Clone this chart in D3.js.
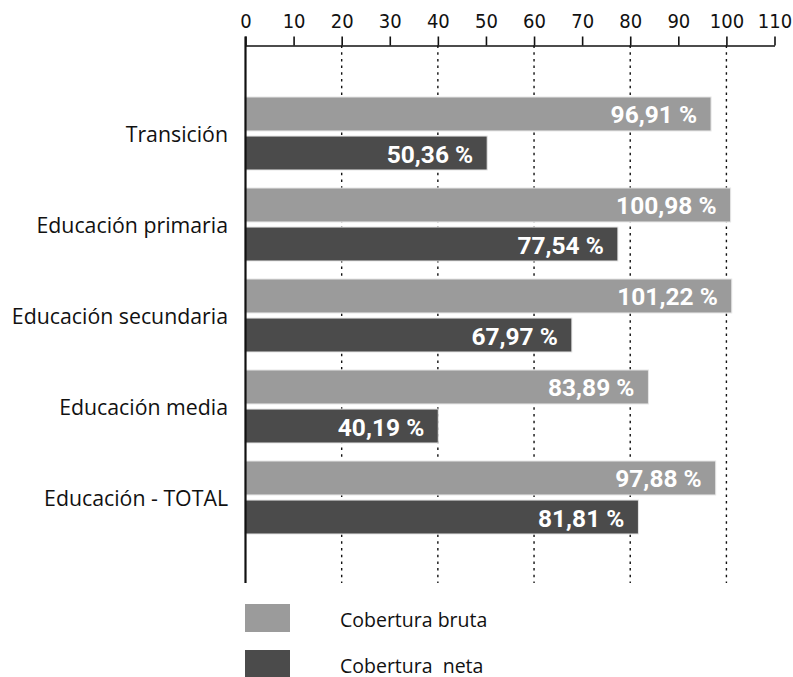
<!DOCTYPE html>
<html>
<head>
<meta charset="utf-8">
<script src="https://cdn.jsdelivr.net/npm/d3@7"></script>
<style>
  html, body { margin: 0; padding: 0; background: #fff; }
  svg { display: block; }
</style>
</head>
<body>
<svg id="chart" width="793" height="677"></svg>
<script>
const categories = ["Transición", "Educación primaria", "Educación secundaria", "Educación media", "Educación - TOTAL"];
const bruta = [96.91, 100.98, 101.22, 83.89, 97.88];
const neta = [50.36, 77.54, 67.97, 40.19, 81.81];
const seriesNames = ["Cobertura bruta", "Cobertura  neta"];
const tickValues = [0, 10, 20, 30, 40, 50, 60, 70, 80, 90, 100, 110];
const gridValues = [20, 40, 60, 80, 100];

const colors = ["#9b9b9b", "#4b4b4b"];
const svg = d3.select("#chart");

const x = d3.scaleLinear().domain([0, 110]).range([245, 774]);
const y = d3.scaleBand().domain(categories).range([88, 543]).paddingInner(0).paddingOuter(0);
const sub = d3.scaleBand().domain([0, 1]).range([-36.5, 36.5]).paddingInner(0.13);

const axisY = 45.5;
const bottomY = 583;

// grid lines
svg.append("g").selectAll("line").data(gridValues).join("line")
  .attr("x1", d => x(d) + 0.5).attr("x2", d => x(d) + 0.5)
  .attr("y1", axisY).attr("y2", bottomY)
  .attr("stroke", "#111").attr("stroke-width", 1.4)
  .attr("stroke-dasharray", "2.5,4.2");

// bars
const groups = svg.append("g").selectAll("g").data(categories).join("g")
  .attr("transform", d => `translate(0,${y(d) + y.bandwidth() / 2})`);

groups.each(function(cat, i) {
  const g = d3.select(this);
  const vals = [bruta[i], neta[i]];
  vals.forEach((v, k) => {
    g.append("rect")
      .attr("x", x(0)).attr("y", sub(k))
      .attr("width", x(v) - x(0)).attr("height", sub.bandwidth())
      .attr("fill", colors[k])
      .attr("stroke", "#e6e6e6").attr("stroke-width", 1);
    g.append("text")
      .attr("x", x(v) - 14).attr("y", sub(k) + sub.bandwidth() / 2 + 1)
      .attr("text-anchor", "end").attr("dominant-baseline", "central")
      .attr("fill", "#fff")
      .attr("font-family", "Roboto, 'Open Sans', sans-serif")
      .attr("font-weight", "bold").attr("font-size", 24.5)
      .text(v.toFixed(2).replace(".", ",") + " %");
  });
});

// category labels
svg.append("g").selectAll("text").data(categories).join("text")
  .attr("x", 228).attr("y", d => y(d) + y.bandwidth() / 2)
  .attr("text-anchor", "end").attr("dominant-baseline", "central")
  .attr("font-family", "'Open Sans', 'Noto Sans', sans-serif")
  .attr("font-size", 21.3).attr("fill", "#111")
  .text(d => d);

// top axis
const axis = d3.axisTop(x).tickValues(tickValues).tickSize(9).tickSizeOuter(0).tickPadding(9);
const ag = svg.append("g").attr("transform", `translate(0.5,${axisY})`).call(axis);
ag.select(".domain").attr("stroke", "#111").attr("stroke-width", 1.6);
ag.selectAll(".tick line").attr("stroke", "#111").attr("stroke-width", 1.6);
ag.selectAll(".tick text")
  .attr("font-family", "'Liberation Sans Narrow', 'DejaVu Sans Condensed', sans-serif")
  .attr("font-size", 20).attr("fill", "#111");

// left axis line
svg.append("line")
  .attr("x1", x(0) + 0.5).attr("x2", x(0) + 0.5)
  .attr("y1", axisY - 9).attr("y2", bottomY)
  .attr("stroke", "#111").attr("stroke-width", 2.2);

// legend
const legend = svg.append("g").selectAll("g").data(seriesNames).join("g")
  .attr("transform", (d, i) => `translate(245,${604 + i * 46})`);
legend.append("rect").attr("width", 45).attr("height", 28)
  .attr("fill", (d, i) => colors[i]);
legend.append("text").attr("x", 95).attr("y", 15)
  .attr("dominant-baseline", "central")
  .attr("font-family", "'Open Sans', 'Noto Sans', sans-serif")
  .attr("font-size", 19.5).attr("fill", "#111")
  .style("white-space", "pre")
  .text(d => d);
</script>
</body>
</html>
